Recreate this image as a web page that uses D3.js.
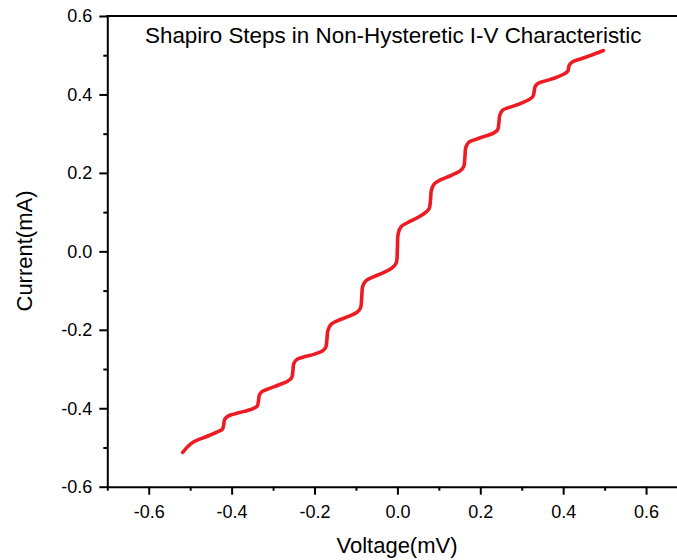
<!DOCTYPE html>
<html>
<head>
<meta charset="utf-8">
<script src="https://cdn.jsdelivr.net/npm/d3@7"></script>
<style>
  html, body { margin: 0; padding: 0; background: #fff; }
  text { font-family: "Liberation Sans", Arial, sans-serif; fill: #000; }
</style>
</head>
<body>
<svg id="chart" width="677" height="560"></svg>
<script>
// ---- data ----
const chartTitle = "Shapiro Steps in Non-Hysteretic I-V Characteristic";
const xLabel = "Voltage(mV)";
const yLabel = "Current(mA)";
const xMajorTicks = [-0.6, -0.4, -0.2, 0.0, 0.2, 0.4, 0.6];
const xMinorTicks = [-0.7, -0.5, -0.3, -0.1, 0.1, 0.3, 0.5];
const yMajorTicks = [-0.6, -0.4, -0.2, 0.0, 0.2, 0.4, 0.6];
const yMinorTicks = [-0.5, -0.3, -0.1, 0.1, 0.3, 0.5];

const voltage = [
  -0.518, -0.505, -0.492, -0.460, -0.432,
  -0.422, -0.419, -0.417, -0.410, -0.395, -0.370, -0.348,
  -0.338, -0.335, -0.333, -0.326, -0.310, -0.285, -0.265,
  -0.255, -0.252, -0.250, -0.243, -0.228, -0.200, -0.181,
  -0.173, -0.170, -0.168, -0.161, -0.145, -0.118, -0.097,
  -0.089, -0.086, -0.084, -0.077, -0.062, -0.035, -0.014,
  -0.003, 0.000, 0.002, 0.009, 0.024, 0.050, 0.069,
  0.077, 0.080, 0.082, 0.089, 0.104, 0.130, 0.152,
  0.160, 0.163, 0.165, 0.172, 0.188, 0.210, 0.233,
  0.242, 0.245, 0.247, 0.254, 0.270, 0.295, 0.318,
  0.327, 0.330, 0.332, 0.339, 0.355, 0.380, 0.402,
  0.411, 0.413, 0.415, 0.422, 0.438, 0.465, 0.497
];
const current = [
  -0.5125, -0.497, -0.486, -0.472, -0.459,
  -0.453, -0.441, -0.429, -0.421, -0.415, -0.408, -0.401,
  -0.394, -0.380, -0.366, -0.357, -0.350, -0.340, -0.331,
  -0.322, -0.303, -0.286, -0.276, -0.270, -0.262, -0.254,
  -0.245, -0.224, -0.203, -0.187, -0.177, -0.166, -0.155,
  -0.144, -0.116, -0.090, -0.076, -0.067, -0.055, -0.043,
  -0.030, 0.008, 0.046, 0.063, 0.073, 0.087, 0.100,
  0.110, 0.133, 0.156, 0.172, 0.182, 0.194, 0.206,
  0.216, 0.241, 0.265, 0.278, 0.285, 0.293, 0.302,
  0.310, 0.329, 0.347, 0.360, 0.367, 0.376, 0.387,
  0.395, 0.407, 0.419, 0.428, 0.434, 0.442, 0.452,
  0.459, 0.467, 0.475, 0.483, 0.489, 0.499, 0.512
];

// ---- drawing ----
const svg = d3.select("#chart");
const mLeft = 107.3, mRight = 687.5, mTop = 16, mBottom = 486.7;

const x = d3.scaleLinear().domain([-0.7, 0.7]).range([mLeft, mRight]);
const y = d3.scaleLinear().domain([-0.6, 0.6]).range([mBottom, mTop]);
const fmt = v => d3.format(".1f")(v).replace("\u2212", "-");

// top frame line
svg.append("line")
  .attr("x1", mLeft - 1).attr("x2", mRight).attr("y1", mTop).attr("y2", mTop)
  .attr("stroke", "#000").attr("stroke-width", 2);

// x axis
const gx = svg.append("g").attr("transform", `translate(0,${mBottom})`);
gx.call(d3.axisBottom(x).tickValues(xMajorTicks).tickFormat(fmt).tickSize(8).tickPadding(10.5).tickSizeOuter(0));
gx.call(g => g.append("g").call(d3.axisBottom(x).tickValues(xMinorTicks).tickFormat("").tickSize(4).tickSizeOuter(0))
  .select(".domain").remove());

// y axis
const gy = svg.append("g").attr("transform", `translate(${mLeft},0)`);
gy.call(d3.axisLeft(y).tickValues(yMajorTicks).tickFormat(fmt).tickSize(8).tickPadding(7).tickSizeOuter(0));
gy.call(g => g.append("g").call(d3.axisLeft(y).tickValues(yMinorTicks).tickFormat("").tickSize(4).tickSizeOuter(0))
  .select(".domain").remove());

svg.selectAll(".domain").attr("stroke", "#000").attr("stroke-width", 2);
svg.selectAll(".tick line").attr("stroke", "#000").attr("stroke-width", 2);
svg.selectAll(".tick text")
  .style("font-family", '"Liberation Sans", Arial, sans-serif')
  .style("font-size", "18px").attr("fill", "#000");

// curve
const pts = voltage.map((v, i) => [v, current[i]]);
svg.append("path")
  .datum(pts)
  .attr("fill", "none")
  .attr("stroke", "#ED1C24")
  .attr("stroke-width", 3.6)
  .attr("stroke-linecap", "round")
  .attr("stroke-linejoin", "round")
  .attr("d", d3.line().x(d => x(d[0])).y(d => y(d[1])).curve(d3.curveCatmullRom.alpha(0.5)));

// titles
svg.append("text")
  .attr("x", 145).attr("y", 43)
  .style("font-size", "22.4px")
  .text(chartTitle);

svg.append("text")
  .attr("x", 397).attr("y", 553)
  .attr("text-anchor", "middle")
  .style("font-size", "22px")
  .text(xLabel);

svg.append("text")
  .attr("transform", "translate(32,251) rotate(-90)")
  .attr("text-anchor", "middle")
  .style("font-size", "22px")
  .text(yLabel);
</script>
</body>
</html>
